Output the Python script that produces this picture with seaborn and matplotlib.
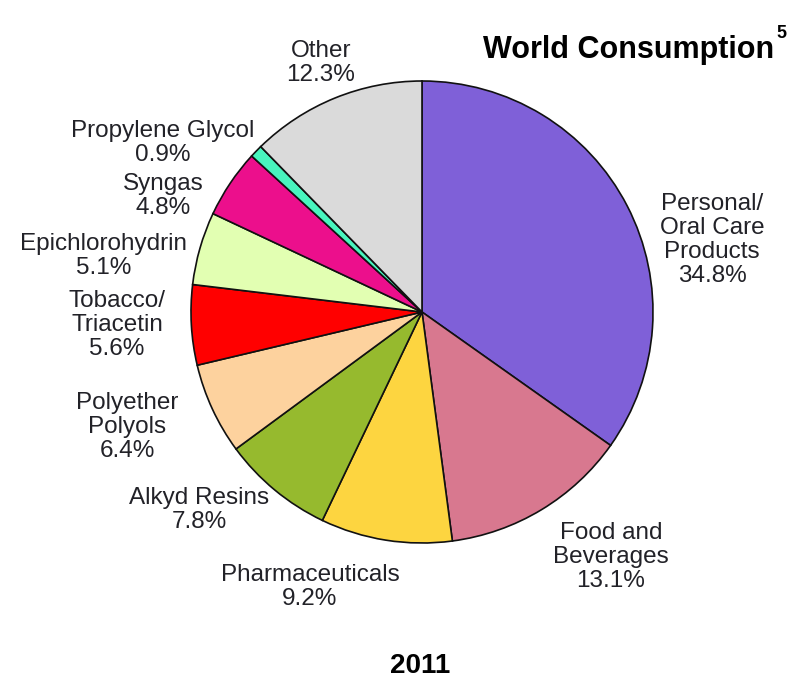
import matplotlib
matplotlib.use("Agg")
import matplotlib.pyplot as plt
import seaborn as sns

# ---- data ----
categories = ["Personal/\nOral Care\nProducts", "Food and\nBeverages", "Pharmaceuticals",
              "Alkyd Resins", "Polyether\nPolyols", "Tobacco/\nTriacetin", "Epichlorohydrin",
              "Syngas", "Propylene Glycol", "Other"]
shares = [34.8, 13.1, 9.2, 7.8, 6.4, 5.6, 5.1, 4.8, 0.9, 12.3]
colors = ["#7F60D8", "#D8788F", "#FDD540", "#96BA2E", "#FDD29E", "#FF0000",
          "#E2FFB2", "#EC0F8C", "#48F5BE", "#DADADA"]
title_text = "World Consumption"
title_sup = "5"
year_label = "2011"

# ---- layout (pixel positions of label centres) ----
label_pos = [(712, 240), (611, 557), (310, 587), (199, 510), (127, 427),
             (117, 325), (104, 256), (163, 196), (163, 143), (321, 63)]

W, H = 793, 693
sns.set_theme(style="white")
plt.rcParams['font.family'] = ['Liberation Sans', 'DejaVu Sans']

fig = plt.figure(figsize=(W / 100, H / 100), dpi=100)
ax = fig.add_axes([0, 0, 1, 1])

ax.pie(shares, colors=sns.color_palette(colors), startangle=90, counterclock=False,
       center=(422, H - 312), radius=231, frame=True,
       wedgeprops=dict(edgecolor="#111111", linewidth=1.2))
ax.set_xlim(0, W)
ax.set_ylim(0, H)
ax.set_aspect('equal')
ax.axis('off')

txt_color = "#222228"
for cat, val, (px, py) in zip(categories, shares, label_pos):
    ax.text(px, H - py, f"{cat}\n{val:.1f}%", ha='center', va='center',
            multialignment='center', fontsize=17.5, color=txt_color, linespacing=1.12)

ax.text(774, H - 58, title_text, ha='right', va='baseline', fontsize=22,
        fontweight='bold', color='black')
ax.text(776, H - 38, title_sup, ha='left', va='baseline', fontsize=13,
        fontweight='bold', color='black')
ax.text(420, H - 673, year_label, ha='center', va='baseline', fontsize=20,
        fontweight='bold', color='black')

fig.savefig("out.png", dpi=100, facecolor='white')
